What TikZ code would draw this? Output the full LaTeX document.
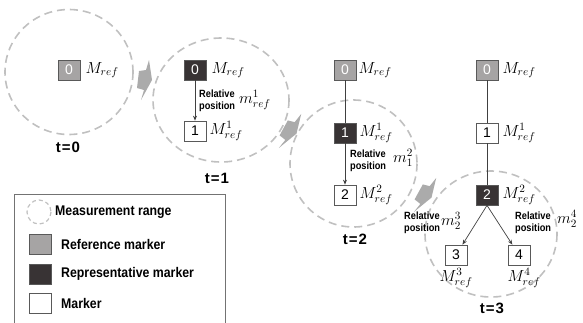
\documentclass[tikz,border=0pt]{standalone}
\usepackage{fix-cm}
\usepackage{fontspec}
\setmainfont{Liberation Sans}
\newfontfamily\narrowfont{Liberation Sans}[FakeStretch=0.88]
\usetikzlibrary{arrows.meta}
\definecolor{refg}{HTML}{A6A4A4}
\definecolor{repg}{HTML}{383334}
\definecolor{dashg}{HTML}{C0C0C0}
\definecolor{lineg}{HTML}{404040}
\definecolor{arrg}{HTML}{ABABAB}
\begin{document}
\begin{tikzpicture}[x=1pt,y=-1pt,
  mk/.style={draw=black!65, line width=0.7pt, minimum width=22pt, minimum height=20pt, inner sep=0pt, font=\fontsize{14}{14}\selectfont, anchor=center},
  refmk/.style={mk, fill=refg, text=white},
  repmk/.style={mk, fill=repg, text=white},
  plainmk/.style={mk, fill=white, text=black},
  mrange/.style={draw=dashg, line width=1.6pt, dash pattern=on 8pt off 5pt},
  lbl/.style={font=\fontsize{16}{16}\selectfont, inner sep=0pt, anchor=west},
  rel/.style={font=\narrowfont\bfseries\fontsize{10.5}{12.5}\selectfont, align=left, inner sep=0pt, anchor=west},
  tl/.style={font=\bfseries\fontsize{15}{15}\selectfont, inner sep=0pt},
  conn/.style={draw=lineg, line width=0.7pt},
  arr/.style={conn, -{Stealth[length=5pt,width=4pt]}},
  chev/.style={fill=arrg},
  leg/.style={font=\narrowfont\bfseries\fontsize{14}{14}\selectfont, inner sep=0pt, anchor=west}
]
\useasboundingbox (0,0) rectangle (583,322);

% measurement ranges
\draw[mrange] (69,72) ellipse[x radius=64, y radius=62.5];
\draw[mrange] (221,100) ellipse[x radius=68, y radius=62];
\draw[mrange] (353.5,163.5) circle[radius=63.5];
\draw[mrange] (491,234) ellipse[x radius=66, y radius=63];

% transition arrows
\fill[chev, shift={(145,80)}] (-6,-9) -- (1,-10) -- (4,-20) -- (7,0) -- (-4,20) -- (-1,10) -- (-8,8) -- cycle;
\fill[chev, shift={(290,131)}, rotate=-22] (-6,-9) -- (1,-10) -- (4,-20) -- (7,0) -- (-4,20) -- (-1,10) -- (-8,8) -- cycle;
\fill[chev, shift={(425,195)}, rotate=-22] (-6,-9) -- (1,-10) -- (4,-20) -- (7,0) -- (-4,20) -- (-1,10) -- (-8,8) -- cycle;

% t=0
\node[refmk] (a0) at (69,70) {0};
\node[lbl] (la0) at ([xshift=5pt]a0.east) {$M_{ref}$};
\node[tl] (t0) at (68,147) {t\kern1pt=\kern1pt0};

% t=1
\node[repmk] (b0) at (195,70) {0};
\node[lbl] (lb0) at ([xshift=5pt]b0.east) {$M_{ref}$};
\node[plainmk] (b1) at (195,131) {1};
\node[lbl] (lb1) at ([xshift=3pt]b1.east) {$M^1_{ref}$};
\draw[arr] (b0) -- (b1);
\node[rel] (rb) at (199,101) {Relative\\position};
\node[lbl] (mb) at (239,100) {$m^1_{ref}$};
\node[tl] (t1) at (217,178) {t\kern1pt=\kern1pt1};

% t=2
\node[refmk] (c0) at (345,70) {0};
\node[lbl] (lc0) at ([xshift=2pt]c0.east) {$M_{ref}$};
\node[repmk] (c1) at (345,133) {1};
\node[lbl] (lc1) at ([xshift=3pt]c1.east) {$M^1_{ref}$};
\node[plainmk] (c2) at (345,195) {2};
\node[lbl] (lc2) at ([xshift=3pt]c2.east) {$M^2_{ref}$};
\draw[conn] (c0) -- (c1);
\draw[arr] (c1) -- (c2);
\node[rel] (rc) at (350,161) {Relative\\position};
\node[lbl] (mc) at (393,158) {$m^2_{1}$};
\node[tl] (t2) at (355,239) {t\kern1pt=\kern1pt2};

% t=3
\node[refmk] (d0) at (487,70) {0};
\node[lbl] (ld0) at ([xshift=4pt]d0.east) {$M_{ref}$};
\node[plainmk] (d1) at (487,133) {1};
\node[lbl] (ld1) at ([xshift=4pt]d1.east) {$M^1_{ref}$};
\node[repmk] (d2) at (487,195) {2};
\node[lbl] (ld2) at ([xshift=4pt]d2.east) {$M^2_{ref}$};
\node[plainmk] (d3) at (456,255) {3};
\node[plainmk] (d4) at (519,255) {4};
\node[lbl, anchor=north] (ld3) at ([yshift=-3pt]d3.south) {$M^3_{ref}$};
\node[lbl, anchor=north] (ld4) at ([xshift=5pt,yshift=-3pt]d4.south) {$M^4_{ref}$};
\draw[conn] (d0) -- (d1);
\draw[conn] (d1) -- (d2);
\draw[arr] (d2.south) -- (d3);
\draw[arr] (d2.south) -- (d4);
\node[rel] (rd3) at (404,223) {Relative\\position};
\node[lbl] (md3) at (441,221) {$m^3_{2}$};
\node[rel] (rd4) at (515,223) {Relative\\position};
\node[lbl] (md4) at (557,219) {$m^4_{2}$};
\node[tl] (t3) at (492,308) {t\kern1pt=\kern1pt3};

% legend
\draw[draw=black!55, line width=0.8pt] (14,326) -- (14,194) -- (225,194) -- (225,326);
\draw[mrange, line width=1.2pt, dash pattern=on 4pt off 3pt] (39,212) circle[radius=12];
\node[leg] (lg1) at (55,212) {Measurement range};
\node[mk, fill=refg] (k1) at (40.5,244) {};
\node[leg] (lg2) at (61,244) {Reference marker};
\node[mk, fill=repg] (k2) at (40.5,274) {};
\node[leg] (lg3) at (61,274) {Representative marker};
\node[mk, fill=white] (k3) at (40.5,303) {};
\node[leg] (lg4) at (61,303) {Marker};
\end{tikzpicture}
\end{document}
